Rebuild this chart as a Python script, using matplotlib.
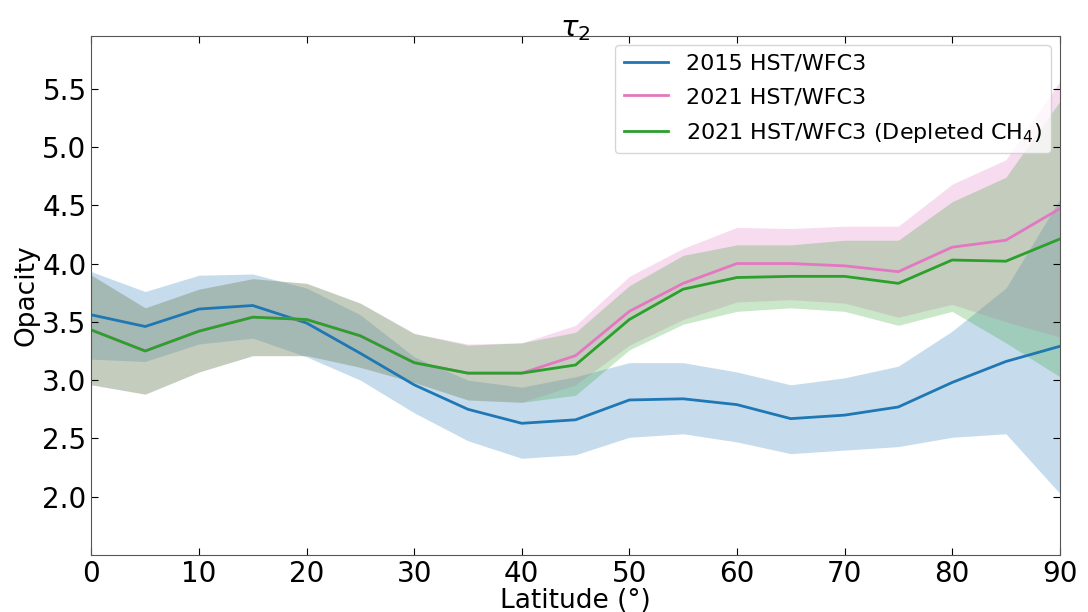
import matplotlib
matplotlib.use("Agg")
import matplotlib.pyplot as plt
import numpy as np

# latitude grid
lat = np.arange(0, 95, 5)

# 2015 HST/WFC3
tau_2015 = [3.56, 3.46, 3.61, 3.64, 3.49, 3.23, 2.96, 2.75, 2.63, 2.66,
            2.83, 2.84, 2.79, 2.67, 2.70, 2.77, 2.98, 3.16, 3.29]
hi_2015 = [3.93, 3.76, 3.90, 3.91, 3.79, 3.56, 3.20, 3.00, 2.94, 3.03,
           3.15, 3.15, 3.07, 2.96, 3.02, 3.12, 3.42, 3.79, 4.55]
lo_2015 = [3.18, 3.16, 3.31, 3.36, 3.20, 3.00, 2.72, 2.48, 2.33, 2.36,
           2.51, 2.54, 2.47, 2.37, 2.40, 2.43, 2.51, 2.54, 2.03]

# 2021 HST/WFC3
tau_2021 = [3.43, 3.25, 3.42, 3.54, 3.52, 3.38, 3.15, 3.06, 3.06, 3.21,
            3.59, 3.83, 4.00, 4.00, 3.98, 3.93, 4.14, 4.20, 4.47]
hi_2021 = [3.90, 3.62, 3.78, 3.87, 3.83, 3.66, 3.40, 3.31, 3.32, 3.47,
           3.89, 4.13, 4.31, 4.30, 4.32, 4.32, 4.68, 4.89, 5.56]
lo_2021 = [2.96, 2.88, 3.07, 3.21, 3.21, 3.11, 2.98, 2.83, 2.81, 2.96,
           3.30, 3.52, 3.67, 3.69, 3.66, 3.54, 3.65, 3.50, 3.37]

# 2021 HST/WFC3, depleted CH4
tau_dep = [3.43, 3.25, 3.42, 3.54, 3.52, 3.38, 3.15, 3.06, 3.06, 3.13,
           3.52, 3.78, 3.88, 3.89, 3.89, 3.83, 4.03, 4.02, 4.21]
hi_dep = [3.90, 3.62, 3.78, 3.87, 3.83, 3.66, 3.40, 3.30, 3.32, 3.41,
          3.81, 4.07, 4.16, 4.16, 4.20, 4.20, 4.53, 4.74, 5.39]
lo_dep = [2.96, 2.88, 3.07, 3.21, 3.21, 3.11, 2.98, 2.83, 2.81, 2.87,
          3.26, 3.48, 3.59, 3.62, 3.59, 3.47, 3.59, 3.32, 3.03]

fig, ax = plt.subplots(figsize=(10.88, 6.12), dpi=100)
fig.subplots_adjust(left=0.084, right=0.974, top=0.941, bottom=0.093)

ax.plot(lat, tau_2015, color="tab:blue", lw=2, label="2015 HST/WFC3")
ax.fill_between(lat, lo_2015, hi_2015, color="tab:blue", alpha=0.25, lw=0)
ax.plot(lat, tau_2021, color="tab:pink", lw=2, label="2021 HST/WFC3")
ax.fill_between(lat, lo_2021, hi_2021, color="tab:pink", alpha=0.25, lw=0)
ax.plot(lat, tau_dep, color="tab:green", lw=2,
        label="2021 HST/WFC3 (Depleted CH$_4$)")
ax.fill_between(lat, lo_dep, hi_dep, color="tab:green", alpha=0.25, lw=0)

ax.set_xlim(0, 90)
ax.set_ylim(1.5, 5.95)
ax.set_xticks(np.arange(0, 100, 10))
ax.set_yticks(np.arange(2.0, 5.6, 0.5))
ax.tick_params(direction="in", top=True, right=True, labelsize=20, length=5)
for s in ax.spines.values():
    s.set_color("#555555")

ax.set_xlabel("Latitude (°)", fontsize=19, labelpad=0)
ax.set_ylabel("Opacity", fontsize=19, labelpad=2)
ax.set_title(r"$\tau_2$", fontsize=21, pad=0)
ax.legend(loc="upper right", fontsize=16, borderaxespad=0.4,
          labelspacing=0.6)

fig.savefig("out.png", dpi=100)
